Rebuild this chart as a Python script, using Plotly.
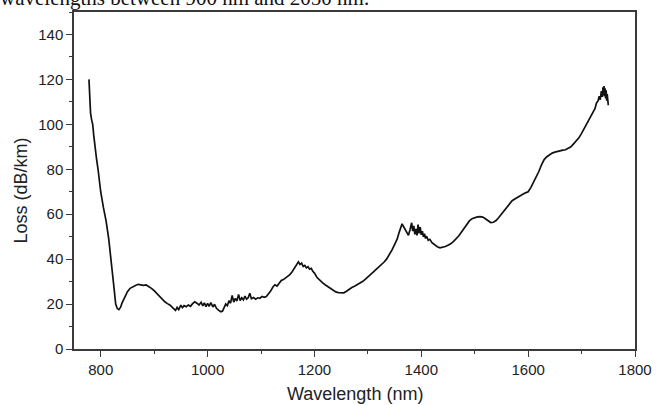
import plotly.graph_objects as go

wavelength = [
    778, 779, 781, 783, 785, 787, 789, 790, 791, 792, 795, 798, 800, 805, 810, 815, 819, 822, 825, 828, 831, 834, 837, 840,
    845, 850, 855, 860, 865, 870, 875, 880, 885, 890, 895, 900, 905, 910, 915, 920, 925, 930, 935, 940,
    943, 946, 950, 953, 956, 960, 964, 968, 972, 976, 980, 984, 988, 991, 994, 997, 1000, 1003, 1006, 1010,
    1013, 1017, 1021, 1025, 1028, 1031, 1034, 1037, 1040, 1043, 1046, 1049, 1052, 1055, 1058, 1061, 1064, 1067,
    1070, 1073, 1076, 1079, 1082, 1086, 1090, 1094, 1098, 1102, 1106, 1110, 1114, 1118, 1122, 1126, 1130, 1134,
    1138, 1142, 1146, 1150, 1154, 1158, 1162, 1166, 1170, 1173, 1176, 1179, 1182, 1185, 1188, 1191, 1194, 1197,
    1200, 1205, 1210, 1215, 1220, 1225, 1230, 1235, 1240, 1245, 1250, 1255, 1260, 1265, 1270, 1275, 1280, 1285,
    1290, 1295, 1300, 1305, 1310, 1315, 1320, 1325, 1330, 1335, 1340, 1345, 1350, 1355, 1358, 1361, 1364, 1367,
    1370, 1373, 1376, 1379, 1382, 1384, 1386, 1388, 1390, 1392, 1394, 1396, 1398, 1400, 1402, 1404, 1406, 1408,
    1410, 1413, 1416, 1420, 1425, 1430, 1435, 1440, 1445, 1450, 1455, 1460, 1465, 1470, 1475, 1480, 1485, 1490,
    1495, 1500, 1505, 1510, 1515, 1520, 1525, 1530, 1535, 1540, 1545, 1550, 1555, 1560, 1565, 1570, 1575, 1580,
    1585, 1590, 1595, 1600, 1605, 1610, 1615, 1620, 1625, 1630, 1635, 1640, 1645, 1650, 1655, 1660, 1665, 1670,
    1675, 1680, 1685, 1690, 1695, 1700, 1705, 1710, 1715, 1720, 1725, 1728, 1731, 1733, 1735, 1737, 1739, 1740,
    1741, 1742, 1743, 1744, 1745, 1746, 1747, 1748, 1749, 1750,
]

loss = [
    120.0, 113.0, 105.0, 102.0, 100.0, 95.0, 90.0, 88.0, 87.5, 85.0, 80.0, 74.0, 70.0, 63.0, 57.0, 49.0, 41.0, 34.0, 27.0, 20.0, 18.0, 17.5, 18.5, 20.5,
    23.0, 25.5, 27.0, 27.8, 28.3, 28.8, 28.6, 28.3, 28.5, 27.8, 27.0, 26.0, 24.8, 23.5, 22.0, 21.0, 20.2, 19.5, 18.3, 17.2,
    18.5, 17.5, 19.5, 18.4, 19.3, 18.8, 19.6, 19.0, 20.2, 21.0, 20.4, 19.6, 20.8, 19.2, 20.5, 18.8, 20.3, 19.0, 20.6, 18.7,
    19.9, 18.0, 17.2, 16.6, 16.9, 18.2, 20.0, 19.3, 21.5, 20.4, 23.8, 20.9, 22.5, 21.4, 24.3, 21.6, 22.8, 21.9,
    23.5, 22.2, 22.8, 24.8, 22.4, 22.9, 22.2, 22.8, 22.6, 23.4, 23.0, 23.4, 24.5, 25.8, 27.5, 28.6, 28.0, 29.3,
    30.5, 30.9, 31.6, 32.2, 33.1, 34.3, 36.0, 37.4, 38.8, 37.6, 38.2, 36.7, 37.2, 36.1, 36.6, 35.5, 35.9, 34.6,
    33.8, 31.8, 30.5, 29.5, 28.6, 27.8, 26.8, 26.0, 25.4, 25.1, 24.9, 25.0, 25.7, 26.6, 27.4, 27.9, 28.5, 29.3,
    30.0, 31.0, 32.2, 33.2, 34.2, 35.3, 36.3, 37.2, 38.6, 40.0, 41.8, 44.0, 46.5, 49.0, 51.5, 53.6, 55.7, 54.4,
    53.0, 51.5, 50.6, 53.2, 56.2, 52.5, 54.8, 51.0, 53.5, 50.6, 55.4, 51.5, 54.2, 50.8, 52.4, 49.9, 51.3, 49.2,
    50.2, 48.4, 48.8, 47.3, 46.3, 45.5, 45.0, 45.2, 45.6, 46.2, 46.8, 47.8, 49.0, 50.3, 52.0, 53.8, 55.4, 57.0,
    58.0, 58.5, 58.8, 58.9, 58.7, 58.0, 57.0, 56.3, 56.4, 57.2, 58.5, 60.0, 62.0, 63.5, 64.8, 66.0, 66.8, 67.6,
    68.4, 68.9, 69.5, 70.0, 71.8, 74.0, 76.2, 79.0, 82.0, 84.3, 85.6, 86.5, 87.2, 87.6, 88.0, 88.3, 88.5, 88.7,
    89.2, 90.0, 91.3, 92.6, 94.0, 96.0, 98.2, 100.4, 102.0, 104.5, 107.0, 109.5, 110.5, 112.5, 111.0, 114.8, 112.2, 116.5,
    113.0, 117.0, 112.5, 116.0, 111.5, 115.2, 110.5, 113.5, 109.0, 108.5,
]

x_ticks = [800, 1000, 1200, 1400, 1600, 1800]
y_ticks = [0, 20, 40, 60, 80, 100, 120, 140]

x_title = "Wavelength (nm)"
y_title = "Loss (dB/km)"
caption = "wavelengths between 900 nm and 2050 nm."

fig = go.Figure()
fig.add_trace(go.Scatter(
    x=wavelength, y=loss, mode="lines",
    line=dict(color="#111111", width=1.7),
    showlegend=False, hoverinfo="skip",
))

axis_common = dict(
    showline=True, linecolor="#3a3a3a", linewidth=1.5, mirror=True,
    ticks="outside", ticklen=6, tickwidth=1.3, tickcolor="#3a3a3a",
    showgrid=False, zeroline=False,
    tickfont=dict(family="Liberation Sans, Arial, sans-serif", size=15, color="#222222"),
)

fig.update_xaxes(
    range=[750, 1800], tickvals=x_ticks, ticktext=[str(v) for v in x_ticks],
    minor=dict(ticks="outside", ticklen=3, tickwidth=1.2, tickcolor="#3a3a3a", dtick=100, tick0=0, showgrid=False),
    **axis_common,
)
fig.update_yaxes(
    range=[0, 150], tickvals=y_ticks, ticktext=[str(v) for v in y_ticks],
    minor=dict(ticks="outside", ticklen=3, tickwidth=1.2, tickcolor="#3a3a3a", dtick=10, tick0=0, showgrid=False),
    **axis_common,
)

fig.update_layout(
    width=662, height=405,
    margin=dict(l=74, r=18, t=10, b=56),
    paper_bgcolor="white", plot_bgcolor="white",
    annotations=[
        dict(text=x_title, xref="paper", yref="paper", x=0.5, y=0, yshift=-45,
             xanchor="center", yanchor="middle", showarrow=False,
             font=dict(family="Liberation Sans, Arial, sans-serif", size=18, color="#222222")),
        dict(text=y_title, xref="paper", yref="paper", x=0, xshift=-54, y=0.5, yshift=-10,
             xanchor="center", yanchor="middle", showarrow=False, textangle=-90,
             font=dict(family="Liberation Sans, Arial, sans-serif", size=18, color="#222222")),
        dict(text=caption, xref="paper", yref="paper", x=0, xshift=-76, y=1, yshift=14,
             xanchor="left", yanchor="middle", showarrow=False,
             font=dict(family="Liberation Serif, Times New Roman, serif", size=21, color="#111111")),
    ],
)

fig.write_html("out.html")
